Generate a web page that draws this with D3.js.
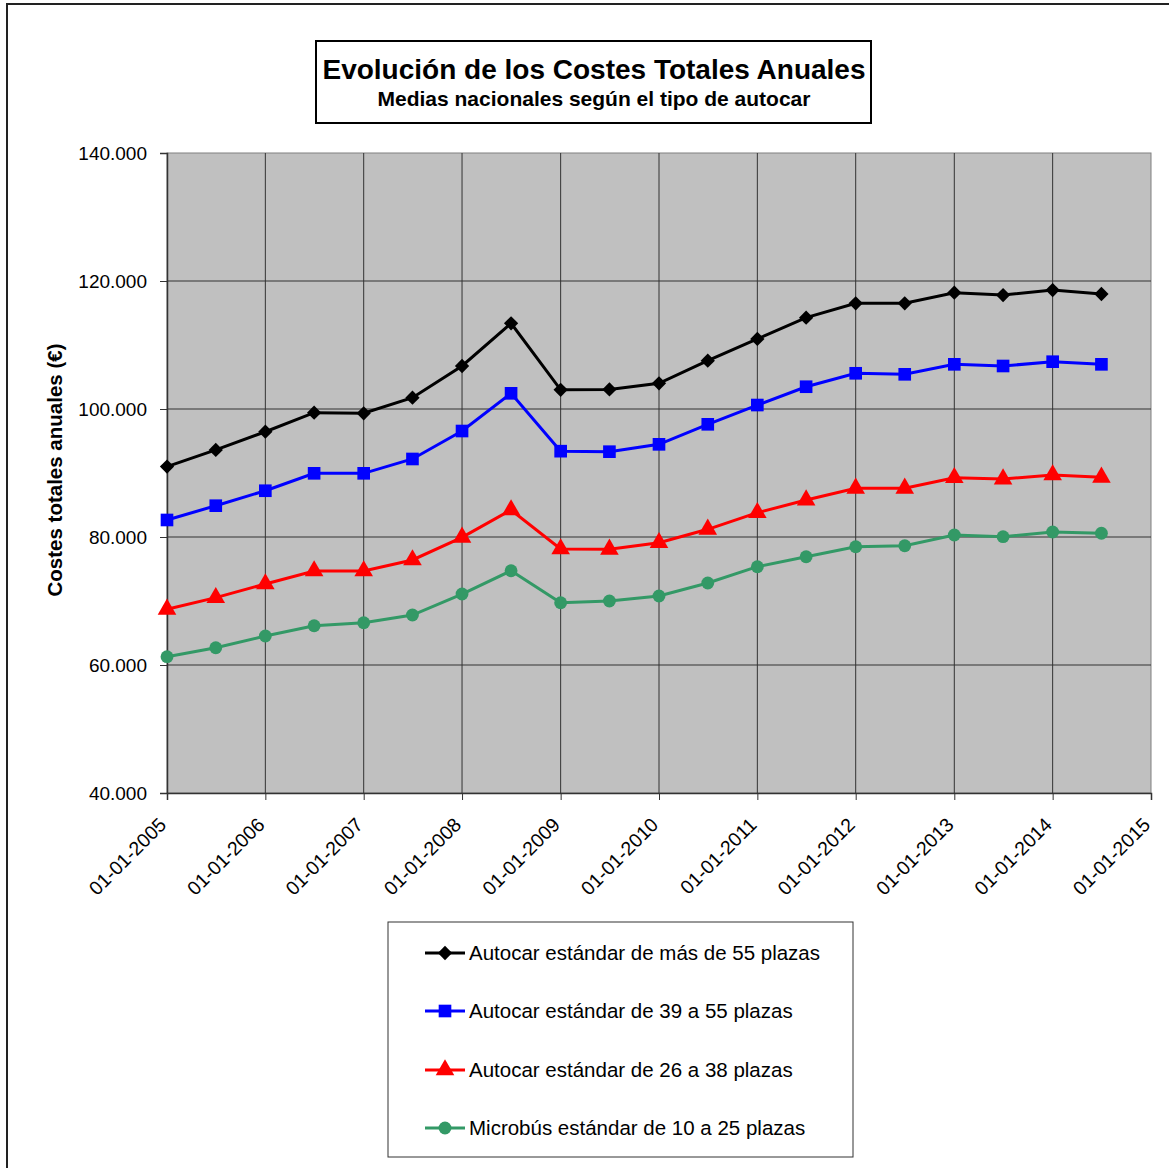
<!DOCTYPE html>
<html>
<head>
<meta charset="utf-8">
<script src="https://cdn.jsdelivr.net/npm/d3@7"></script>
<style>
  body { margin: 0; background: #fff; }
  svg { font-family: "Liberation Sans", Arial, sans-serif; }
</style>
</head>
<body>
<div class="chart"></div>
<script>
// Data
var dates = ["2005-01-01","2005-07-01","2006-01-01","2006-07-01","2007-01-01","2007-07-01",
    "2008-01-01","2008-07-01","2009-01-01","2009-07-01","2010-01-01","2010-07-01",
    "2011-01-01","2011-07-01","2012-01-01","2012-07-01","2013-01-01","2013-07-01",
    "2014-01-01","2014-07-01"];

var masDe55 = [91000, 93600, 96450, 99420, 99330, 101770, 106720, 113390, 103000, 103050,
    104020, 107550, 110940, 114270, 116520, 116520, 118170, 117810, 118590, 117970];
var de39a55 = [82660, 84890, 87230, 89950, 89950, 92190, 96560, 102450, 93410, 93330,
    94480, 97610, 100620, 103480, 105580, 105420, 106980, 106720, 107390, 106980];
var de26a38 = [68700, 70520, 72660, 74690, 74690, 76410, 79950, 84220, 78125, 78070,
    79110, 81200, 83800, 85780, 87610, 87610, 89270, 89060, 89690, 89330];
var microbus = [61300, 62700, 64530, 66140, 66610, 67810, 71090, 74730, 69730, 70000,
    70780, 72810, 75360, 76920, 78480, 78640, 80310, 80050, 80780, 80580];

var seriesNames = ["Autocar estándar de más de 55 plazas", "Autocar estándar de 39 a 55 plazas",
    "Autocar estándar de 26 a 38 plazas", "Microbús estándar de 10 a 25 plazas"];
var seriesColors = ["#000000", "#0000FF", "#FF0000", "#339966"];
var seriesMarkers = [d3.symbolDiamond2, d3.symbolSquare, d3.symbolTriangle, d3.symbolCircle];
var markerSizes = [130, 160, 150, 130];

var yTicks = [40000, 60000, 80000, 100000, 120000, 140000];
var xTicks = ["2005","2006","2007","2008","2009","2010","2011","2012","2013","2014","2015"];

var width = 1169, height = 1168;
var plot = { left: 167, right: 1151, top: 153, bottom: 793 };

var parseDate = d3.timeParse("%Y-%m-%d");
var es = d3.formatLocale({ decimal: ",", thousands: ".", grouping: [3], currency: ["", " €"] });

var svg = d3.select('.chart').append('svg')
    .attr('width', width)
    .attr('height', height);

// outer frame (runs off the picture to right and bottom)
svg.append('rect')
    .attr('x', 7).attr('y', 4)
    .attr('width', 1200).attr('height', 1200)
    .attr('fill', '#fff')
    .attr('stroke', '#222')
    .attr('stroke-width', 2);

var x = d3.scaleTime()
    .domain([parseDate("2005-01-01"), parseDate("2015-01-01")])
    .range([plot.left, plot.right]);

var y = d3.scaleLinear()
    .domain([40000, 140000])
    .range([plot.bottom, plot.top]);

var xTickDates = xTicks.map(function(t) { return parseDate(t + "-01-01"); });

svg.append('rect')
    .attr('x', plot.left).attr('y', plot.top)
    .attr('width', plot.right - plot.left)
    .attr('height', plot.bottom - plot.top)
    .attr('fill', '#C0C0C0')
    .attr('stroke', '#808080')
    .attr('stroke-width', 1);

// grid
svg.append('g').selectAll('line')
    .data(yTicks.slice(1, -1))
    .enter().append('line')
    .attr('x1', plot.left).attr('x2', plot.right)
    .attr('y1', d => y(d)).attr('y2', d => y(d))
    .attr('stroke', '#333').attr('stroke-width', 1);

svg.append('g').selectAll('line')
    .data(xTickDates.slice(1, -1))
    .enter().append('line')
    .attr('x1', d => x(d)).attr('x2', d => x(d))
    .attr('y1', plot.top).attr('y2', plot.bottom)
    .attr('stroke', '#333').attr('stroke-width', 1);

// axes
var yAxis = svg.append('g')
    .attr('transform', 'translate(' + plot.left + ',0)')
    .call(d3.axisLeft(y).tickValues(yTicks).tickSize(7).tickPadding(13).tickFormat(es.format(",")));

var xAxis = svg.append('g')
    .attr('transform', 'translate(0,' + plot.bottom + ')')
    .call(d3.axisBottom(x).tickValues(xTickDates).tickSize(7).tickFormat(d3.timeFormat("%d-%m-%Y")));

yAxis.select('.domain').attr('stroke', '#333').attr('stroke-width', 1.5);
xAxis.select('.domain').attr('stroke', '#333').attr('stroke-width', 1.5);
svg.selectAll('.tick line').attr('stroke', '#333');

yAxis.selectAll('text')
    .attr('font-size', 19)
    .attr('font-family', '"Liberation Sans", Arial, sans-serif')
    .attr('fill', '#000');

xAxis.selectAll('text')
    .attr('font-size', 19.5)
    .attr('font-family', '"Liberation Sans", Arial, sans-serif')
    .attr('fill', '#000')
    .attr('text-anchor', 'end')
    .attr('dy', null)
    .attr('y', 0)
    .attr('transform', 'translate(0,33) rotate(-45)');

// y axis title
svg.append('text')
    .attr('transform', 'translate(62,' + ((plot.top + plot.bottom) / 2 - 3) + ') rotate(-90)')
    .attr('text-anchor', 'middle')
    .attr('font-size', 20.5)
    .attr('font-weight', 'bold')
    .text('Costes totales anuales (€)');

// series
var allSeries = [masDe55, de39a55, de26a38, microbus];

var line = d3.line()
    .x(d => x(d.date))
    .y(d => y(d.value));

allSeries.forEach(function(values, i) {
    var pts = values.map(function(v, j) { return { date: parseDate(dates[j]), value: v }; });
    var g = svg.append('g').attr('class', 'series-' + i);
    g.append('path')
        .datum(pts)
        .attr('d', line)
        .attr('fill', 'none')
        .attr('stroke', seriesColors[i])
        .attr('stroke-width', 3);
    g.selectAll('path.marker')
        .data(pts)
        .enter().append('path')
        .attr('class', 'marker')
        .attr('d', d3.symbol().type(seriesMarkers[i]).size(markerSizes[i]))
        .attr('transform', d => 'translate(' + x(d.date) + ',' + y(d.value) + ')')
        .attr('fill', seriesColors[i]);
});

// title box
svg.append('rect')
    .attr('x', 316).attr('y', 41)
    .attr('width', 555).attr('height', 82)
    .attr('fill', '#fff')
    .attr('stroke', '#000')
    .attr('stroke-width', 2);

svg.append('text')
    .attr('x', 594).attr('y', 79)
    .attr('text-anchor', 'middle')
    .attr('font-size', 28)
    .attr('font-weight', 'bold')
    .text('Evolución de los Costes Totales Anuales');

svg.append('text')
    .attr('x', 594).attr('y', 106)
    .attr('text-anchor', 'middle')
    .attr('font-size', 21)
    .attr('font-weight', 'bold')
    .text('Medias nacionales según el tipo de autocar');

// legend
var legend = svg.append('g');
legend.append('rect')
    .attr('x', 388).attr('y', 922)
    .attr('width', 465).attr('height', 235)
    .attr('fill', '#fff')
    .attr('stroke', '#333')
    .attr('stroke-width', 1);

var legendY = [953, 1011, 1070, 1128];
seriesNames.forEach(function(name, i) {
    var ly = legendY[i];
    legend.append('line')
        .attr('x1', 425).attr('x2', 465)
        .attr('y1', ly).attr('y2', ly)
        .attr('stroke', seriesColors[i])
        .attr('stroke-width', 3);
    legend.append('path')
        .attr('d', d3.symbol().type(seriesMarkers[i]).size(markerSizes[i]))
        .attr('transform', 'translate(445,' + ly + ')')
        .attr('fill', seriesColors[i]);
    legend.append('text')
        .attr('x', 469).attr('y', ly)
        .attr('dy', '0.35em')
        .attr('font-size', 20.5)
        .text(name);
});
</script>
</body>
</html>
